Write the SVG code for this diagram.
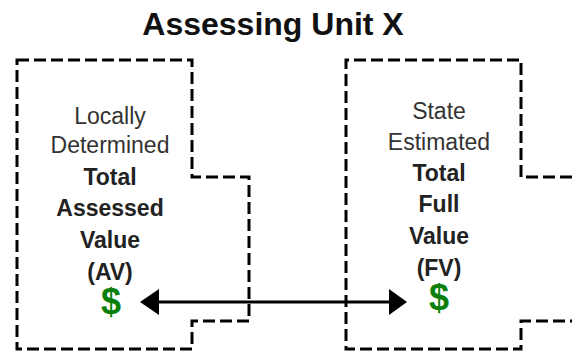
<svg xmlns="http://www.w3.org/2000/svg" width="572" height="352" viewBox="0 0 572 352">
<defs>
<style>
.box{fill:none;stroke:#000;stroke-width:3;stroke-dasharray:12 5;}
.t{font-family:"Liberation Sans",Arial,sans-serif;text-anchor:middle;}
.title{font-size:32px;font-weight:bold;fill:#111;}
.r{font-size:23px;fill:#333;}
.b{font-size:23px;font-weight:bold;fill:#222;}
.d{font-size:36px;font-weight:bold;fill:#0a800a;}
.conn{stroke:#000;stroke-width:3;fill:none;}
</style>
</defs>
<rect width="572" height="352" fill="#fff"/>
<text class="t title" x="273" y="35">Assessing Unit X</text>
<g id="node-av">
<path class="box" d="M17,60 H192 V177 H249 V321 H192 V349 H17 Z"/>
<text class="t r" x="110" y="124">Locally</text>
<text class="t r" x="110" y="153">Determined</text>
<text class="t b" x="110" y="185">Total</text>
<text class="t b" x="110" y="216">Assessed</text>
<text class="t b" x="110" y="248">Value</text>
<text class="t b" x="110" y="280">(AV)</text>
<text class="t d" x="111" y="314">$</text>
</g>
<g id="node-fv">
<path class="box" d="M572,177 H521 V60 H346 V349 H521 V321 H572"/>
<text class="t r" x="439" y="119">State</text>
<text class="t r" x="439" y="150">Estimated</text>
<text class="t b" x="439" y="181">Total</text>
<text class="t b" x="439" y="212">Full</text>
<text class="t b" x="439" y="244">Value</text>
<text class="t b" x="439" y="276">(FV)</text>
<text class="t d" x="439" y="310">$</text>
</g>
<g id="connectors">
<line class="conn" x1="156" y1="302" x2="392" y2="302"/>
<polygon points="140,302 159,289 159,315" fill="#000"/>
<polygon points="407,302 389,289 389,315" fill="#000"/>
</g>
</svg>
